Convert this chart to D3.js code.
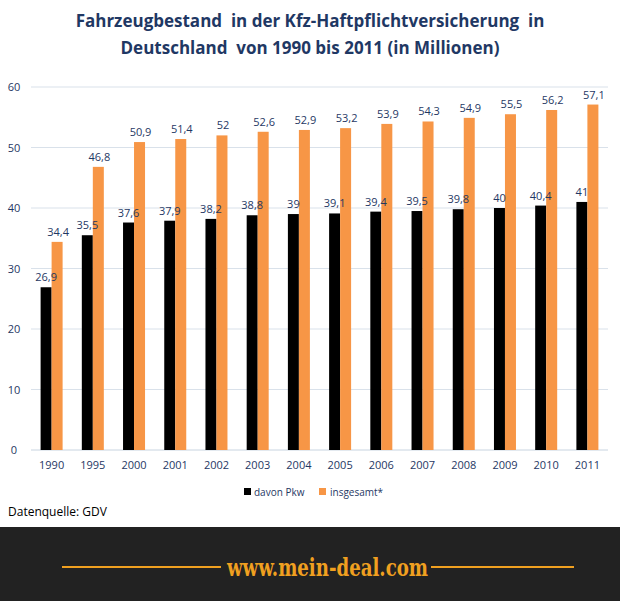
<!DOCTYPE html>
<html><head><meta charset="utf-8">
<script src="https://cdn.jsdelivr.net/npm/d3@7"></script>
<style>body{margin:0;background:#fff} text{white-space:pre}</style>
</head><body>
<svg id="c" width="620" height="601"></svg>
<script>
const years=["1990","1995","2000","2001","2002","2003","2004","2005","2006","2007","2008","2009","2010","2011"];
const pkw=[26.9,35.5,37.6,37.9,38.2,38.8,39,39.1,39.4,39.5,39.8,40,40.4,41];
const gesamt=[34.4,46.8,50.9,51.4,52,52.6,52.9,53.2,53.9,54.3,54.9,55.5,56.2,57.1];
const yTicks=[0,10,20,30,40,50,60];
const fmt=v=>String(v).replace(".",",");
const svg=d3.select("#c");
const F="'Open Sans',sans-serif";
const x=d3.scaleBand().domain(years).range([31,608]).paddingInner(0).paddingOuter(0);
const y=d3.scaleLinear().domain([0,60]).range([450,87]);
svg.append("g").selectAll("line").data(yTicks).join("line")
 .attr("x1",31).attr("x2",608).attr("y1",d=>y(d)).attr("y2",d=>y(d))
 .attr("stroke",d=>d===0?"#c8d4e0":"#d9e1ea").attr("stroke-width",1);
svg.append("g").selectAll("text").data(yTicks).join("text")
 .attr("x",14).attr("y",d=>y(d)+4).attr("text-anchor","middle").attr("font-family",F).attr("font-size",11).attr("fill","#1f3864").text(d=>d);
const bw=11;
years.forEach((yr,i)=>{
 const c=x(yr)+x.bandwidth()/2;
 svg.append("rect").attr("x",c-bw).attr("width",bw).attr("y",y(pkw[i])).attr("height",450-y(pkw[i])).attr("fill","#000");
 svg.append("rect").attr("x",c).attr("width",bw).attr("y",y(gesamt[i])).attr("height",450-y(gesamt[i])).attr("fill","#f79646");
 svg.append("text").attr("x",c-bw/2).attr("y",y(pkw[i])-6).attr("text-anchor","middle").attr("font-family",F).attr("font-size",11).attr("fill","#1f3864").text(fmt(pkw[i]));
 svg.append("text").attr("x",c+bw/2+1).attr("y",y(gesamt[i])-6).attr("text-anchor","middle").attr("font-family",F).attr("font-size",11).attr("fill","#1f3864").text(fmt(gesamt[i]));
 svg.append("text").attr("x",c).attr("y",469).attr("text-anchor","middle").attr("font-family",F).attr("font-size",11).attr("fill","#1f3864").text(yr);
});
// legend
svg.append("rect").attr("x",244).attr("y",488).attr("width",7).attr("height",7).attr("fill","#000");
svg.append("text").attr("x",254).attr("y",495.5).attr("font-family",F).attr("font-size",10).attr("fill","#1f3864").text("davon Pkw");
svg.append("rect").attr("x",319).attr("y",488).attr("width",7).attr("height",7).attr("fill","#f79646");
svg.append("text").attr("x",330).attr("y",495.5).attr("font-family",F).attr("font-size",10).attr("fill","#1f3864").text("insgesamt*");
svg.append("text").attr("x",8).attr("y",516).attr("font-family",F).attr("font-size",12).attr("fill","#000").text("Datenquelle: GDV");
// title
svg.append("text").attr("x",310).attr("y",27).attr("text-anchor","middle").attr("font-family",F).attr("font-weight","bold").attr("font-size",17).attr("fill","#1f3864").text("Fahrzeugbestand  in der Kfz-Haftpflichtversicherung  in");
svg.append("text").attr("x",310).attr("y",54).attr("text-anchor","middle").attr("font-family",F).attr("font-weight","bold").attr("font-size",17).attr("fill","#1f3864").text("Deutschland  von 1990 bis 2011 (in Millionen)");
// footer
svg.append("rect").attr("x",0).attr("y",527).attr("width",620).attr("height",74).attr("fill","#222");
svg.append("line").attr("x1",62).attr("x2",221).attr("y1",567).attr("y2",567).attr("stroke","#f0a020").attr("stroke-width",2);
svg.append("line").attr("x1",431).attr("x2",574).attr("y1",567).attr("y2",567).attr("stroke","#f0a020").attr("stroke-width",2);
svg.append("text").attr("x",227).attr("y",576).attr("font-family","'DejaVu Serif Condensed','DejaVu Serif',serif").attr("font-weight","bold").attr("font-size",25).attr("fill","#f0a020").attr("textLength",201).attr("lengthAdjust","spacingAndGlyphs").text("www.mein-deal.com");
</script></body></html>
